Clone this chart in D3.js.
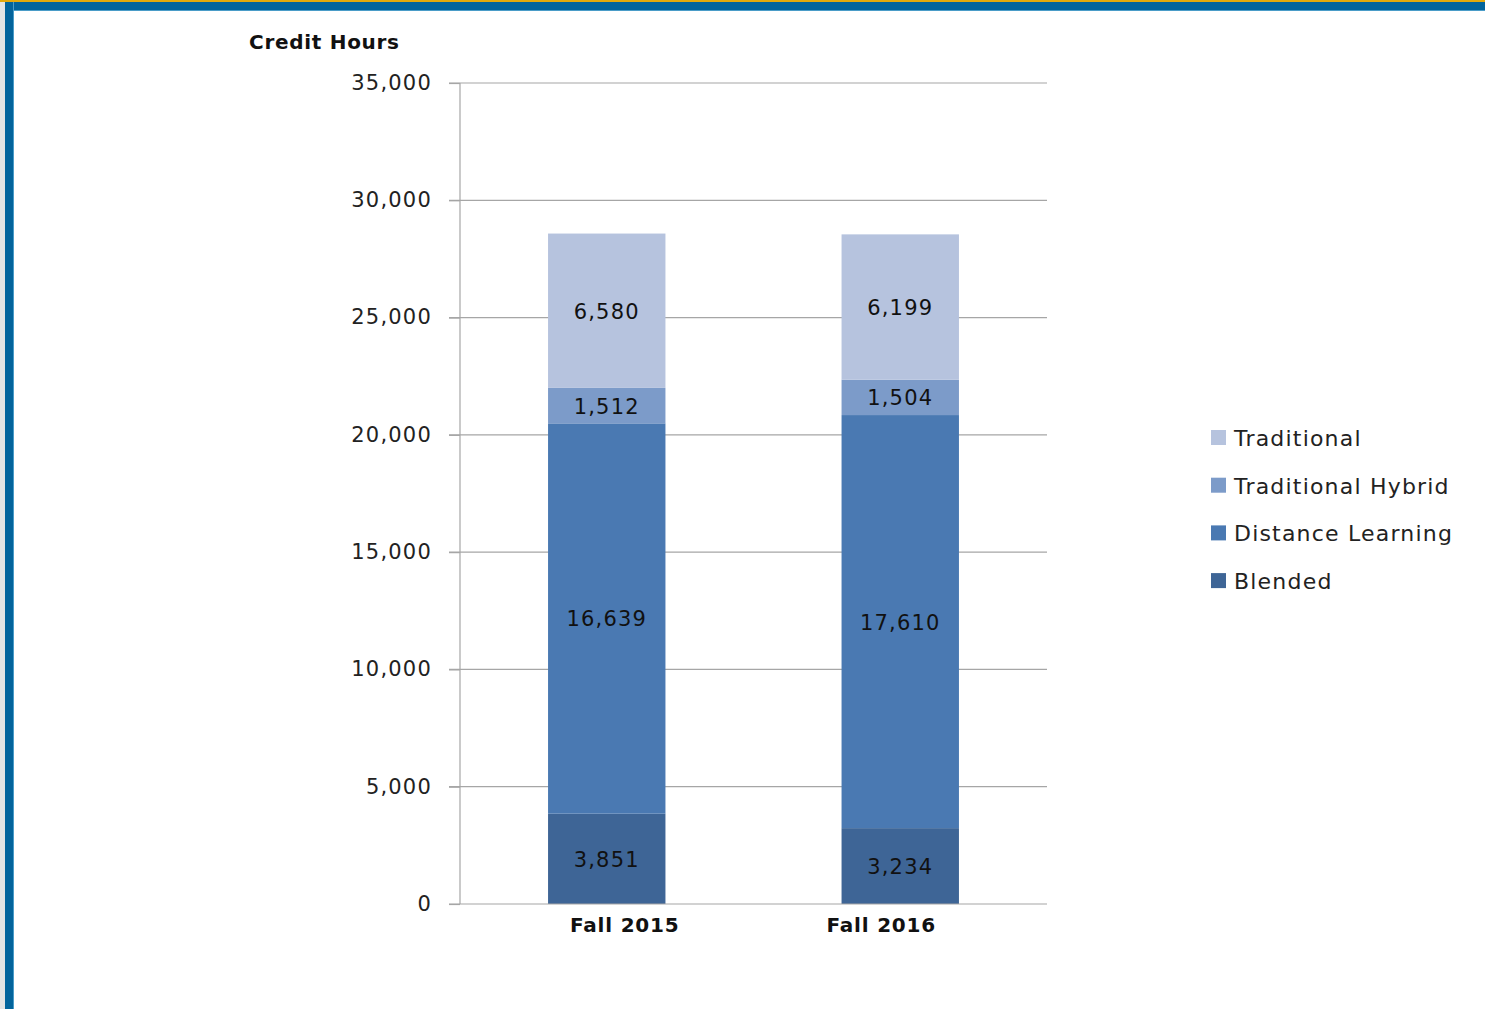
<!DOCTYPE html>
<html>
<head>
<meta charset="utf-8">
<script src="https://cdn.jsdelivr.net/npm/d3@7"></script>
<style>
  body { margin: 0; background: #fff; overflow: hidden; }
  .frame { position: absolute; left: 0; top: 0; width: 1485px; height: 1009px; }
  .strip-gray { position: absolute; left: 0; top: 0; width: 5px; height: 1009px; background: #e4e4e4; }
  .strip-gold { position: absolute; left: 0; top: 0; width: 1485px; height: 2px; background: #e3a90c; }
  .strip-top { position: absolute; left: 5px; top: 2px; width: 1480px; height: 8px; background: #03649c; border-bottom: 1px solid #4a9cc8; }
  .strip-left { position: absolute; left: 5px; top: 2px; width: 8px; height: 1007px; background: #03649c; border-right: 1px solid #4a9cc8; }
  text { font-family: "DejaVu Sans", sans-serif; }
</style>
</head>
<body>
<div class="frame">
  <div class="strip-gray"></div>
  <div class="strip-gold"></div>
  <div class="strip-top"></div>
  <div class="strip-left"></div>
  <svg id="chart" width="1485" height="1009" style="position:absolute;left:0;top:0"></svg>
</div>
<script>
var terms = ["Fall 2015", "Fall 2016"];
var seriesNames = ["Blended", "Distance Learning", "Traditional Hybrid", "Traditional"];
var blended = [3851, 3234];
var distance = [16639, 17610];
var hybrid = [1512, 1504];
var traditional = [6580, 6199];
var yTicks = [0, 5000, 10000, 15000, 20000, 25000, 30000, 35000];

var colors = {"Blended": "#3e6596", "Distance Learning": "#4a79b2", "Traditional Hybrid": "#7c9bc9", "Traditional": "#b6c3de"};

var svg = d3.select("#chart");
var plotLeft = 460, plotRight = 1047, plotTop = 83, plotBottom = 904;

var rows = terms.map(function(t, i) {
  return {term: t, "Blended": blended[i], "Distance Learning": distance[i],
          "Traditional Hybrid": hybrid[i], "Traditional": traditional[i]};
});
var layers = d3.stack().keys(seriesNames)(rows);

var x = d3.scaleBand().domain(terms).range([plotLeft, plotRight]).paddingInner(0.6).paddingOuter(0.3);
var y = d3.scaleLinear().domain([0, 35000]).range([plotBottom, plotTop]);
var fmt = d3.format(",");

// gridlines
svg.append("g").selectAll("line")
  .data(yTicks.slice(1))
  .enter().append("line")
    .attr("x1", plotLeft - 11).attr("x2", plotRight)
    .attr("y1", function(d) { return y(d); }).attr("y2", function(d) { return y(d); })
    .attr("stroke", "#a6a6a6").attr("stroke-width", 1.2);

// y axis
var yAxis = svg.append("g")
    .attr("transform", "translate(" + plotLeft + ",0)")
    .call(d3.axisLeft(y).tickValues(yTicks).tickSize(11).tickFormat(fmt));
yAxis.select(".domain").attr("stroke", "#a6a6a6").attr("stroke-width", 1.2).attr("d", "M0," + plotTop + "V" + plotBottom);
yAxis.selectAll(".tick line").attr("stroke", "#a6a6a6").attr("stroke-width", 1.2);
yAxis.selectAll(".tick text")
    .attr("x", -28)
    .attr("dy", "0.3em")
    .style("font-family", "DejaVu Sans")
    .style("font-size", "21px")
    .style("letter-spacing", "1.2px")
    .attr("fill", "#222");

// bars
svg.append("g").selectAll("g")
  .data(layers)
  .enter().append("g")
    .attr("fill", function(d) { return colors[d.key]; })
  .selectAll("rect")
  .data(function(d) { return d; })
  .enter().append("rect")
    .attr("x", function(d) { return x(d.data.term); })
    .attr("width", x.bandwidth())
    .attr("y", function(d) { return y(d[1]); })
    .attr("height", function(d) { return y(d[0]) - y(d[1]); });

// data labels
svg.append("g").selectAll("g")
  .data(layers)
  .enter().append("g")
  .selectAll("text")
  .data(function(d) { return d.map(function(p) { return {p: p, key: d.key}; }); })
  .enter().append("text")
    .attr("x", function(d) { return x(d.p.data.term) + x.bandwidth() / 2; })
    .attr("y", function(d) { return (y(d.p[0]) + y(d.p[1])) / 2; })
    .attr("dy", "0.38em")
    .attr("text-anchor", "middle")
    .style("font-size", "21px")
    .style("letter-spacing", "1.2px")
    .attr("fill", "#111")
    .text(function(d) { return fmt(d.p.data[d.key]); });

// x axis
svg.append("line")
    .attr("x1", plotLeft - 11).attr("x2", plotRight)
    .attr("y1", plotBottom).attr("y2", plotBottom)
    .attr("stroke", "#a6a6a6").attr("stroke-width", 1.2);
var xShift = [18, -19];
svg.append("g").selectAll("text")
  .data(terms)
  .enter().append("text")
    .attr("x", function(d, i) { return x(d) + x.bandwidth() / 2 + xShift[i]; })
    .attr("y", 932)
    .attr("text-anchor", "middle")
    .style("font-size", "20px")
    .style("font-weight", "bold")
    .style("letter-spacing", "0.8px")
    .attr("fill", "#111")
    .text(function(d) { return d; });

// axis title
svg.append("text")
    .attr("x", 249).attr("y", 49)
    .style("font-size", "20px")
    .style("font-weight", "bold")
    .style("letter-spacing", "0.7px")
    .attr("fill", "#111")
    .text("Credit Hours");

// legend
var legend = svg.append("g").attr("transform", "translate(1211,430)");
var li = legend.selectAll("g")
  .data(seriesNames.slice().reverse())
  .enter().append("g")
    .attr("transform", function(d, i) { return "translate(0," + i * 47.7 + ")"; });
li.append("rect")
    .attr("width", 15).attr("height", 15)
    .attr("fill", function(d) { return colors[d]; });
li.append("text")
    .attr("x", 23).attr("y", 8)
    .attr("dy", "0.36em")
    .style("font-size", "22px")
    .style("letter-spacing", "1.2px")
    .attr("fill", "#222")
    .text(function(d) { return d; });
</script>
</body>
</html>
